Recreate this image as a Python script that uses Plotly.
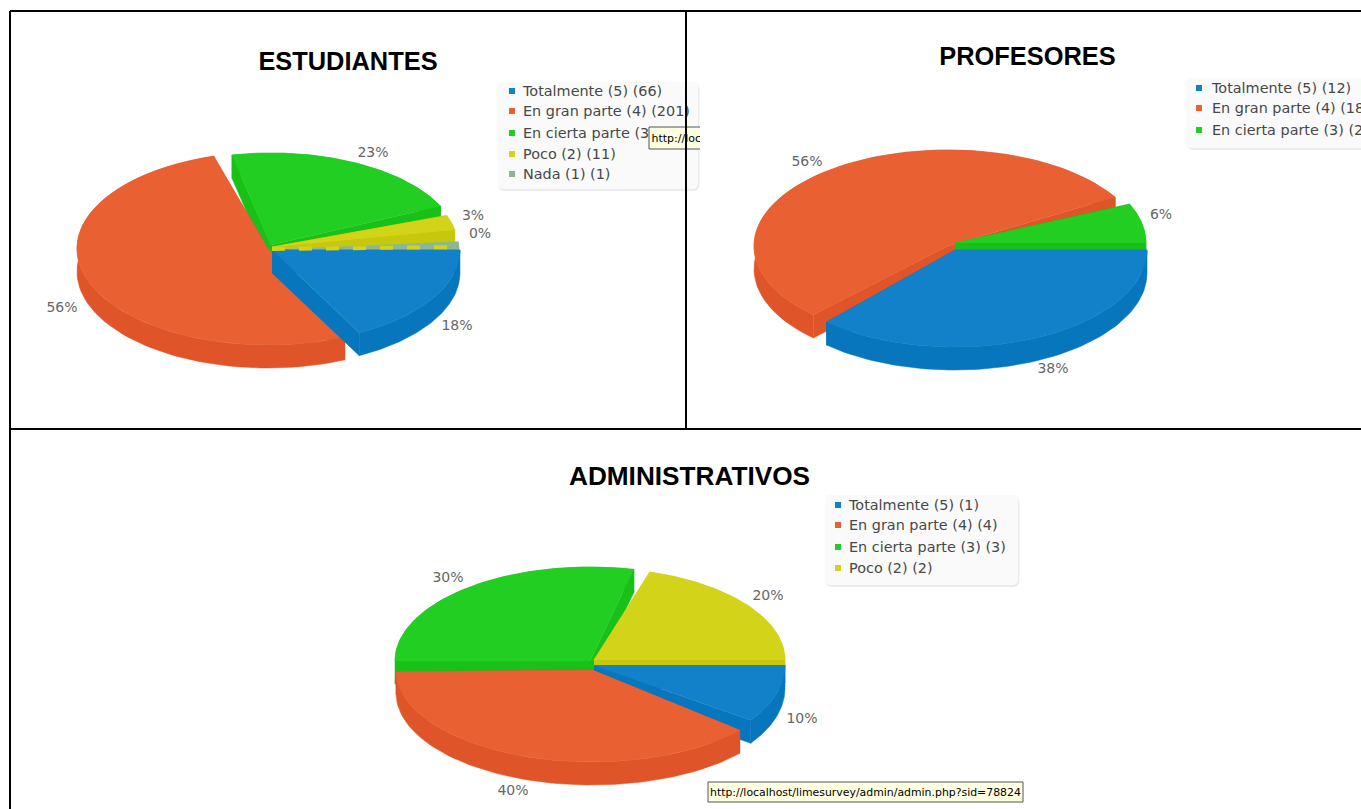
import numpy as np
import plotly.graph_objects as go

# --- data ---
LEGEND_NAMES = ["Totalmente (5)", "En gran parte (4)", "En cierta parte (3)", "Poco (2)", "Nada (1)"]
EST_COUNTS = [66, 201, 83, 11, 1]
PROF_COUNTS = [12, 18, 2]
ADMIN_COUNTS = [1, 4, 3, 2]

TOPS = ["#1381C9", "#E96033", "#21CE21", "#D3D419", "#8DB88D"]
SIDES = ["#0776BD", "#DF5428", "#18C018", "#C6C80E", "#8DB88D"]

DEPTH = 23

# each slice: cx, cy, rx, ry of its own ellipse (slices are pulled apart in the source image)
# and the start/end skew in degrees, because the source pie is not a clean projection
EST_GEOM = [
    dict(c=(272, 250), r=(188, 93.4), skew=(0, -3.3)),
    dict(c=(268, 248.6), r=(191, 96.4), skew=(0.6, -12)),
    dict(c=(271, 245), r=(187, 92), skew=(-7.6, -13)),
    dict(c=(272, 247), r=(186, 92), skew=(-8.2, -9.7)),
    dict(c=(272, 250), r=(187, 92), skew=(-4.2, 0)),
]
PROF_GEOM = [
    dict(c=(955, 250), r=(192, 97), skew=(0, -3)),
    dict(c=(948, 246), r=(194, 96), skew=(-1, -8)),
    dict(c=(955, 243), r=(191, 96), skew=(-1.5, 0)),
]
ADMIN_GEOM = [
    dict(c=(594, 665.5), r=(191, 96), skew=(0, -1.2)),
    dict(c=(592, 670), r=(196, 92), skew=(5, -1)),
    dict(c=(590, 661), r=(195, 94), skew=(0, -5)),
    dict(c=(594, 660), r=(191, 92), skew=(-1, 0)),
]

fig = go.Figure()


def poly(xs, ys, color):
    fig.add_trace(go.Scatter(x=xs, y=ys, mode="lines", fill="toself", fillcolor=color,
                             line=dict(color=color, width=0.5), hoverinfo="skip", showlegend=False))


def text(x, y, s, size, color, family="DejaVu Sans", pos="middle right", weight="normal"):
    fig.add_trace(go.Scatter(x=[x], y=[y], mode="text", text=[s], textposition=pos,
                             textfont=dict(size=size, color=color, family=family, weight=weight),
                             hoverinfo="skip", showlegend=False))


def title(x, y, s, size=25.4):
    text(x, y, s, size, "#000000", "Liberation Sans", "middle center", "bold")


def draw_pie(counts, geom):
    total = sum(counts)
    edges = np.cumsum([0] + counts) / total * 360
    # back slices first so the front ones cover them
    mids = (edges[:-1] + edges[1:]) / 2
    order = np.argsort(np.sin(np.radians(mids)))
    for i in order:
        g = geom[i]
        cx, cy = g["c"]
        rx, ry = g["r"]
        phi = np.radians(np.linspace(edges[i] + g["skew"][0], edges[i + 1] + g["skew"][1], 80))
        ax = cx + rx * np.cos(phi)
        ay = cy + ry * np.sin(phi)
        # outer wall
        poly(np.r_[ax, ax[::-1]], np.r_[ay, ay[::-1] + DEPTH], SIDES[i])
        # the two cut walls
        for k in (0, -1):
            poly([cx, ax[k], ax[k], cx], [cy, ay[k], ay[k] + DEPTH, cy + DEPTH], SIDES[i])
        # top face
        poly(np.r_[cx, ax], np.r_[cy, ay], TOPS[i])


def rounded_box(x0, y0, x1, y1, rad=5):
    t = np.linspace(0, np.pi / 2, 8)
    xs = np.r_[x1 - rad + rad * np.sin(t), x1 - rad + rad * np.cos(t), x0 + rad - rad * np.sin(t), x0 + rad - rad * np.cos(t)]
    ys = np.r_[y0 + rad - rad * np.cos(t), y1 - rad + rad * np.sin(t), y1 - rad + rad * np.cos(t), y0 + rad - rad * np.sin(t)]
    poly(xs + 1, ys + 1.5, "#E6E6E6")
    poly(xs, ys, "#FAFAFA")


def draw_legend(box, mark_x, text_x, rows, names, counts):
    rounded_box(*box)
    for i, y in enumerate(rows):
        fig.add_trace(go.Scatter(x=[mark_x], y=[y], mode="markers", hoverinfo="skip", showlegend=False,
                                 marker=dict(symbol="square", size=6, color=TOPS[i], line=dict(width=0))))
        text(text_x, y + 1, f"{names[i]} ({counts[i]})", 14.4, "#484848")


def draw_pct(counts, spots):
    total = sum(counts)
    for v, (x, y) in zip(counts, spots):
        text(x, y + 1, f"{round(v / total * 100)}%", 14, "#666666", pos="middle center")


# ESTUDIANTES panel
draw_pie(EST_COUNTS, EST_GEOM)
# the hairline Nada slice shows the yellow wall through it as dashes
fig.add_trace(go.Scatter(x=[272, 459], y=[249, 247], mode="lines", hoverinfo="skip", showlegend=False,
                         line=dict(color=TOPS[3], width=4, dash="13px,14px")))
draw_pct(EST_COUNTS, [(457, 325), (62, 307), (373, 152), (473, 215), (480, 233)])
title(348, 64, "ESTUDIANTES")
draw_legend((497.5, 82, 698, 189), 512, 523, [91, 111, 133, 154, 174], LEGEND_NAMES, EST_COUNTS)
poly([649, 702, 702, 649], [127, 127, 149, 149], "#FFFFE1")
fig.add_trace(go.Scatter(x=[702, 649, 649, 702], y=[127, 127, 149, 149], mode="lines", hoverinfo="skip",
                         showlegend=False, line=dict(color="#555555", width=1)))
text(651.5, 139, "http://localhost", 11, "#000000")

# PROFESORES sits over the tooltip's right end
poly([700, 1361, 1361, 700], [12, 12, 428, 428], "#FFFFFF")
draw_pie(PROF_COUNTS, PROF_GEOM)
draw_pct(PROF_COUNTS, [(1053, 368), (807, 161), (1161, 214)])
title(1027.5, 59, "PROFESORES")
draw_legend((1186.5, 78, 1400, 148), 1199, 1212, [88, 108, 130], LEGEND_NAMES, PROF_COUNTS)

# ADMINISTRATIVOS panel
draw_pie(ADMIN_COUNTS, ADMIN_GEOM)
draw_pct(ADMIN_COUNTS, [(802, 718), (513, 790), (448, 577), (768, 595)])
title(689.5, 478, "ADMINISTRATIVOS", 26.2)
draw_legend((825, 495, 1018, 585), 838, 849, [505, 525, 547, 568], LEGEND_NAMES, ADMIN_COUNTS)
poly([708, 1023, 1023, 708, 708], [782, 782, 802, 802, 782], "#FFFFE1")
fig.add_trace(go.Scatter(x=[708, 1023, 1023, 708, 708], y=[782, 782, 802, 802, 782], mode="lines", hoverinfo="skip",
                         showlegend=False, line=dict(color="#555555", width=1)))
text(710, 793, "http://localhost/limesurvey/admin/admin.php?sid=78824", 10.9, "#000000")

# panel frame
FRAME = [(10, 11, 10, 809), (10, 11, 1361, 11), (10, 429, 1361, 429), (686, 11, 686, 429)]
for x0, y0, x1, y1 in FRAME:
    fig.add_shape(type="line", x0=x0, y0=y0, x1=x1, y1=y1, layer="above", line=dict(color="#000000", width=2))

fig.update_layout(
    width=1361, height=809, margin=dict(l=0, r=0, t=0, b=0),
    paper_bgcolor="#FFFFFF", plot_bgcolor="#FFFFFF", showlegend=False,
    xaxis=dict(range=[0, 1361], visible=False, fixedrange=True),
    yaxis=dict(range=[809, 0], visible=False, fixedrange=True),
)

fig.write_html("out.html", config=dict(displayModeBar=False),
               post_script="document.body.style.margin='0';document.body.style.overflow='hidden';")
